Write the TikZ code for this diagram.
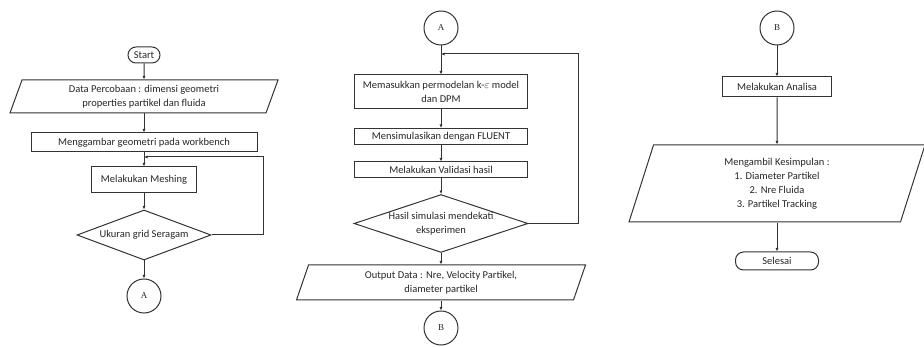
\documentclass[tikz,border=0pt]{standalone}
\usepackage{fontspec}
\setmainfont{Carlito}
\newfontfamily\connfont{Liberation Serif}
\usepackage{tikz}
\usetikzlibrary{arrows.meta,shapes.geometric}

\begin{document}
\begin{tikzpicture}[x=1pt,y=-1pt]
	\tikzset{
		box/.style={draw=black!80,line width=1pt,align=center,inner sep=2pt,text=black!85,
			font=\fontsize{10.5}{14}\selectfont},
		proc/.style={box,rectangle},
		term/.style={box,rectangle,rounded corners=8pt,inner sep=1pt},
		io/.style={box,trapezium,trapezium left angle=66,trapezium right angle=114,
			trapezium stretches body},
		dec/.style={box,diamond,aspect=3,inner sep=0pt},
		conn/.style={box,circle,minimum size=34pt,inner sep=0pt,font=\connfont\fontsize{9}{10}\selectfont},
		flow/.style={draw=black!80,line width=1pt,-{Latex[length=3.5pt,width=3pt]}}
	}
	\useasboundingbox (0,0) rectangle (924,347);

	%% kolom 1
	\node[term,minimum width=32pt,minimum height=16pt] (start) at (144,55) {Start};
	\node[io,minimum width=268pt,minimum height=33pt] (data) at (144,96.5) {Data Percobaan : dimensi geometri\\properties partikel dan fluida};
	\node[proc,minimum width=226pt,minimum height=19pt] (gambar) at (144,142.5) {Menggambar geometri pada workbench};
	\node[proc,minimum width=105pt,minimum height=26pt] (mesh) at (144,180) {Melakukan Meshing};
	\node[dec,aspect=2.7,minimum width=134pt,minimum height=50pt] (grid) at (144,235) {Ukuran grid Seragam};
	\node[conn] (a1) at (144,296) {A};
	\coordinate (back1) at (144,157);
	\coordinate (loop1) at (263,157);
	\path[flow]
		(start) edge (data)
		(data) edge (gambar)
		(gambar) edge (mesh)
		(mesh) edge (grid)
		(grid) edge (a1);
	\draw[flow] (grid.east) -| (loop1) -- (back1);

	%% kolom 2
	\node[conn] (a2) at (441,28) {A};
	\node[proc,minimum width=173pt,minimum height=34pt] (model) at (441,92) {Memasukkan permodelan k-$\varepsilon$ model\\dan DPM};
	\node[proc,minimum width=173pt,minimum height=16pt] (fluent) at (441,136.5) {Mensimulasikan dengan FLUENT};
	\node[proc,minimum width=173pt,minimum height=16pt] (valid) at (441,170) {Melakukan Validasi hasil};
	\node[dec,minimum width=172pt,minimum height=57pt] (hasil) at (441,223.5) {Hasil simulasi mendekati\\eksperimen};
	\node[io,minimum width=289pt,minimum height=35pt] (output) at (441,282.5) {Output Data : Nre, Velocity Partikel,\\diameter partikel};
	\node[conn] (b1) at (441,328) {B};
	\coordinate (back2) at (441,54);
	\coordinate (loop2) at (578,54);
	\path[flow]
		(a2) edge (model)
		(model) edge (fluent)
		(fluent) edge (valid)
		(valid) edge (hasil)
		(hasil) edge (output)
		(output) edge (b1);
	\draw[flow] (hasil.east) -| (loop2) -- (back2);

	%% kolom 3
	\node[conn] (b2) at (777,28) {B};
	\node[proc,minimum width=109pt,minimum height=20pt] (analisa) at (777,87) {Melakukan Analisa};
	\node[io,minimum width=296pt,minimum height=77pt] (simpul) at (777,183.5) {Mengambil Kesimpulan :\\1. Diameter Partikel\\2. Nre Fluida\\3. Partikel Tracking};
	\node[term,minimum width=83pt,minimum height=18pt] (selesai) at (777,261) {Selesai};
	\path[flow]
		(b2) edge (analisa)
		(analisa) edge (simpul)
		(simpul) edge (selesai);
\end{tikzpicture}
\end{document}
